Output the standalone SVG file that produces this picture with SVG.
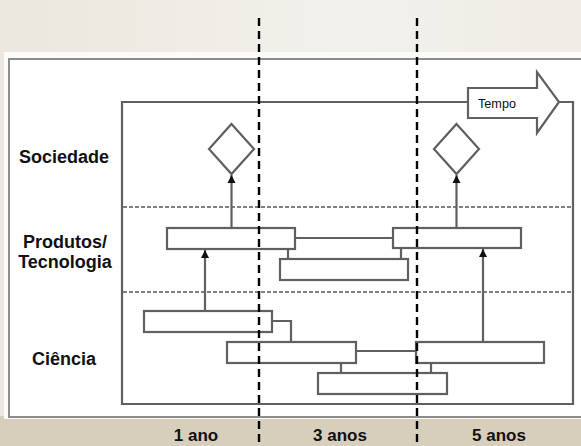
<svg xmlns="http://www.w3.org/2000/svg" width="581" height="446" viewBox="0 0 581 446">
  <style>
    .lbl { font-family: "Liberation Sans", Arial, sans-serif; font-weight: bold; font-size: 18px; fill: #111111; text-anchor: middle; }
    .yr { font-family: "Liberation Sans", Arial, sans-serif; font-weight: bold; font-size: 17px; fill: #111111; text-anchor: middle; }
    .box { fill: #ffffff; stroke: #606060; stroke-width: 2.2; }
    .wire { fill: none; stroke: #606060; stroke-width: 2.2; }
    .sep { stroke: #808080; stroke-width: 2; stroke-dasharray: 4 2; }
    .cut { stroke: #000000; stroke-width: 2.4; stroke-dasharray: 8 5; }
  </style>
  <defs>
    <linearGradient id="bgTop" x1="0" y1="0" x2="1" y2="0">
      <stop offset="0" stop-color="#ebe7de"/>
      <stop offset="0.6" stop-color="#f3f1ec"/>
      <stop offset="1" stop-color="#efece5"/>
    </linearGradient>
    <marker id="tip" viewBox="0 0 8 10" refX="8" refY="5" markerWidth="8" markerHeight="10" markerUnits="userSpaceOnUse" orient="auto">
      <path d="M0,1 L8,5 L0,9 Z" fill="#111111"/>
    </marker>
  </defs>

  <!-- backdrop -->
  <rect x="0" y="0" width="581" height="446" fill="url(#bgTop)"/>
  <rect x="0" y="416" width="581" height="30" fill="#d7cfbc"/>
  <rect x="4" y="52" width="580" height="367" fill="#fbfbfa"/>
  <rect x="9" y="59" width="580" height="358" fill="#ffffff" stroke="#8c8c8c" stroke-width="2"/>

  <!-- time frame with arrow -->
  <g id="frame">
    <path class="wire" d="M468,102 H122 V404 H573 V102 H559"/>
    <path d="M468,88 H537 V72 L559,102 L537,133 V118 H468 Z" fill="#ffffff" stroke="#606060" stroke-width="2.2"/>
    <text x="478" y="108" font-family="Liberation Sans, Arial, sans-serif" font-size="12.5" fill="#111111" textLength="38" lengthAdjust="spacingAndGlyphs">Tempo</text>
  </g>

  <!-- layer separators -->
  <line class="sep" x1="123" y1="207" x2="572" y2="207"/>
  <line class="sep" x1="123" y1="292" x2="572" y2="292"/>

  <!-- row labels -->
  <text class="lbl" x="64" y="163">Sociedade</text>
  <text class="lbl" x="65" y="248">Produtos/</text>
  <text class="lbl" x="65" y="268">Tecnologia</text>
  <text class="lbl" x="64" y="365">Ciência</text>

  <!-- connectors -->
  <g id="connectors">
    <line class="wire" x1="231.5" y1="228" x2="231.5" y2="175" marker-end="url(#tip)"/>
    <line class="wire" x1="456.5" y1="228" x2="456.5" y2="175" marker-end="url(#tip)"/>
    <line class="wire" x1="205" y1="311" x2="205" y2="250" marker-end="url(#tip)"/>
    <line class="wire" x1="483" y1="342" x2="483" y2="249" marker-end="url(#tip)"/>
    <path class="wire" d="M295,238 H393"/>
    <path class="wire" d="M288,249 V259"/>
    <path class="wire" d="M401,248 V259"/>
    <path class="wire" d="M272,321 H291 V342"/>
    <path class="wire" d="M356,351 H416"/>
    <path class="wire" d="M341,363 V373"/>
    <path class="wire" d="M431,363 V373"/>
  </g>

  <!-- society outcomes -->
  <g id="diamond-1"><path class="box" d="M231.5,124 L254,149 L231.5,174 L209,149 Z"/></g>
  <g id="diamond-2"><path class="box" d="M456.5,124 L479,149 L456.5,174 L434,149 Z"/></g>

  <!-- products / technology -->
  <g id="prod-1"><rect class="box" x="167" y="228" width="128" height="21"/></g>
  <g id="prod-2"><rect class="box" x="280" y="259" width="128" height="21"/></g>
  <g id="prod-3"><rect class="box" x="393" y="228" width="128" height="20"/></g>

  <!-- science -->
  <g id="sci-1"><rect class="box" x="144" y="311" width="128" height="21"/></g>
  <g id="sci-2"><rect class="box" x="227" y="342" width="129" height="21"/></g>
  <g id="sci-3"><rect class="box" x="416" y="342" width="128" height="21"/></g>
  <g id="sci-4"><rect class="box" x="318" y="373" width="129" height="21"/></g>

  <!-- horizon cut lines -->
  <line class="cut" x1="259" y1="18" x2="259" y2="446"/>
  <line class="cut" x1="417" y1="18" x2="417" y2="446"/>

  <!-- horizon labels -->
  <text class="yr" x="196" y="441">1 ano</text>
  <text class="yr" x="340" y="441">3 anos</text>
  <text class="yr" x="499" y="441">5 anos</text>
</svg>
